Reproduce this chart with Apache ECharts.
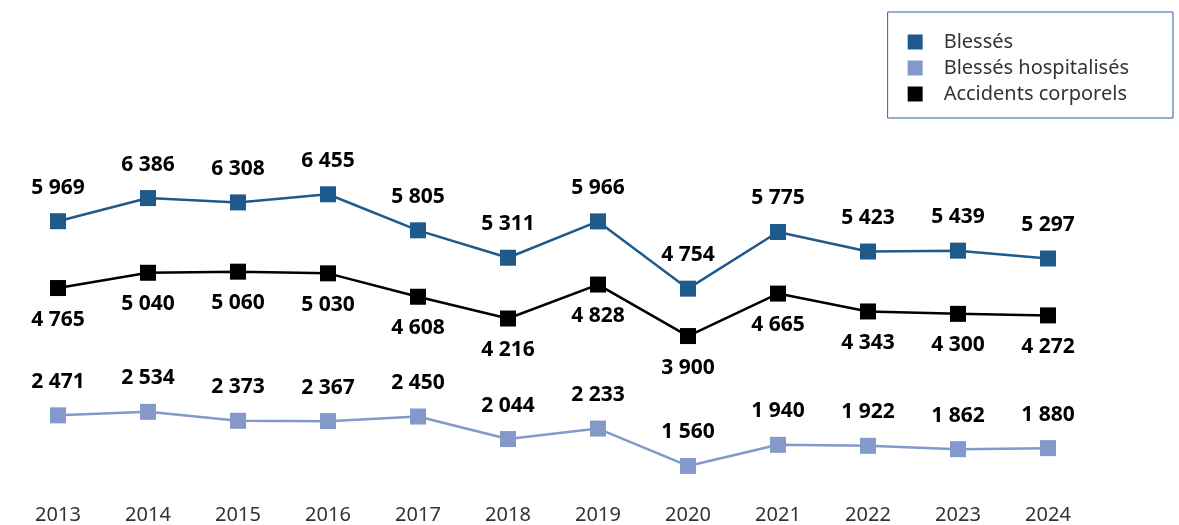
<!DOCTYPE html>
<html>
<head>
<meta charset="utf-8">
<script src="https://cdn.jsdelivr.net/npm/echarts@6/dist/echarts.min.js"></script>
<style>
  html, body { margin: 0; padding: 0; background: #fff; }
  #chart { width: 1179px; height: 525px; }
</style>
</head>
<body>
<div id="chart"></div>
<script>
const years = ['2013', '2014', '2015', '2016', '2017', '2018', '2019', '2020', '2021', '2022', '2023', '2024'];
const blesses = [5969, 6386, 6308, 6455, 5805, 5311, 5966, 4754, 5775, 5423, 5439, 5297];
const hospitalises = [2471, 2534, 2373, 2367, 2450, 2044, 2233, 1560, 1940, 1922, 1862, 1880];
const accidents = [4765, 5040, 5060, 5030, 4608, 4216, 4828, 3900, 4665, 4343, 4300, 4272];

const fmt = v => String(v).replace(/\B(?=(\d{3})+(?!\d))/g, ' ');

const chart = echarts.init(document.getElementById('chart'));

const labelStyle = {
    show: true,
    formatter: p => fmt(p.value),
    color: '#000',
    fontFamily: 'Noto Sans',
    fontWeight: 'bold',
    fontSize: 21,
};

function lineSeries(name, data, color, pos, dist) {
    return {
        name,
        type: 'line',
        data,
        symbol: 'rect',
        symbolSize: 16,
        lineStyle: { color, width: 2.5 },
        itemStyle: { color },
        label: { ...labelStyle, position: pos, distance: dist },
        emphasis: { disabled: true },
    };
}

chart.setOption({
    animation: false,
    backgroundColor: '#fff',
    grid: { left: 13, right: 86, top: 164, bottom: 26 },
    legend: {
        orient: 'vertical',
        top: 12,
        right: 6,
        icon: 'rect',
        itemWidth: 15,
        itemHeight: 15,
        itemGap: 6,
        padding: [20, 44, 14, 20],
        borderColor: '#2f5f9e',
        borderWidth: 1,
        textStyle: {
            fontFamily: 'Noto Sans', fontSize: 20, color: '#333',
            padding: [0, 0, 0, 16],
        },
        data: ['Blessés', 'Blessés hospitalisés', 'Accidents corporels'],
    },
    xAxis: {
        type: 'category',
        data: years,
        axisLine: { show: false },
        axisTick: { show: false },
        axisLabel: { color: '#333', fontFamily: 'Noto Sans', fontSize: 20, margin: 8 },
    },
    yAxis: {
        type: 'value',
        min: 1000,
        max: 7000,
        show: false,
    },
    series: [
        lineSeries('Blessés', blesses, '#1f5a8c', 'top', 15),
        lineSeries('Blessés hospitalisés', hospitalises, '#8399c9', 'top', 15),
        lineSeries('Accidents corporels', accidents, '#000', 'bottom', 13),
    ],
});
</script>
</body>
</html>
